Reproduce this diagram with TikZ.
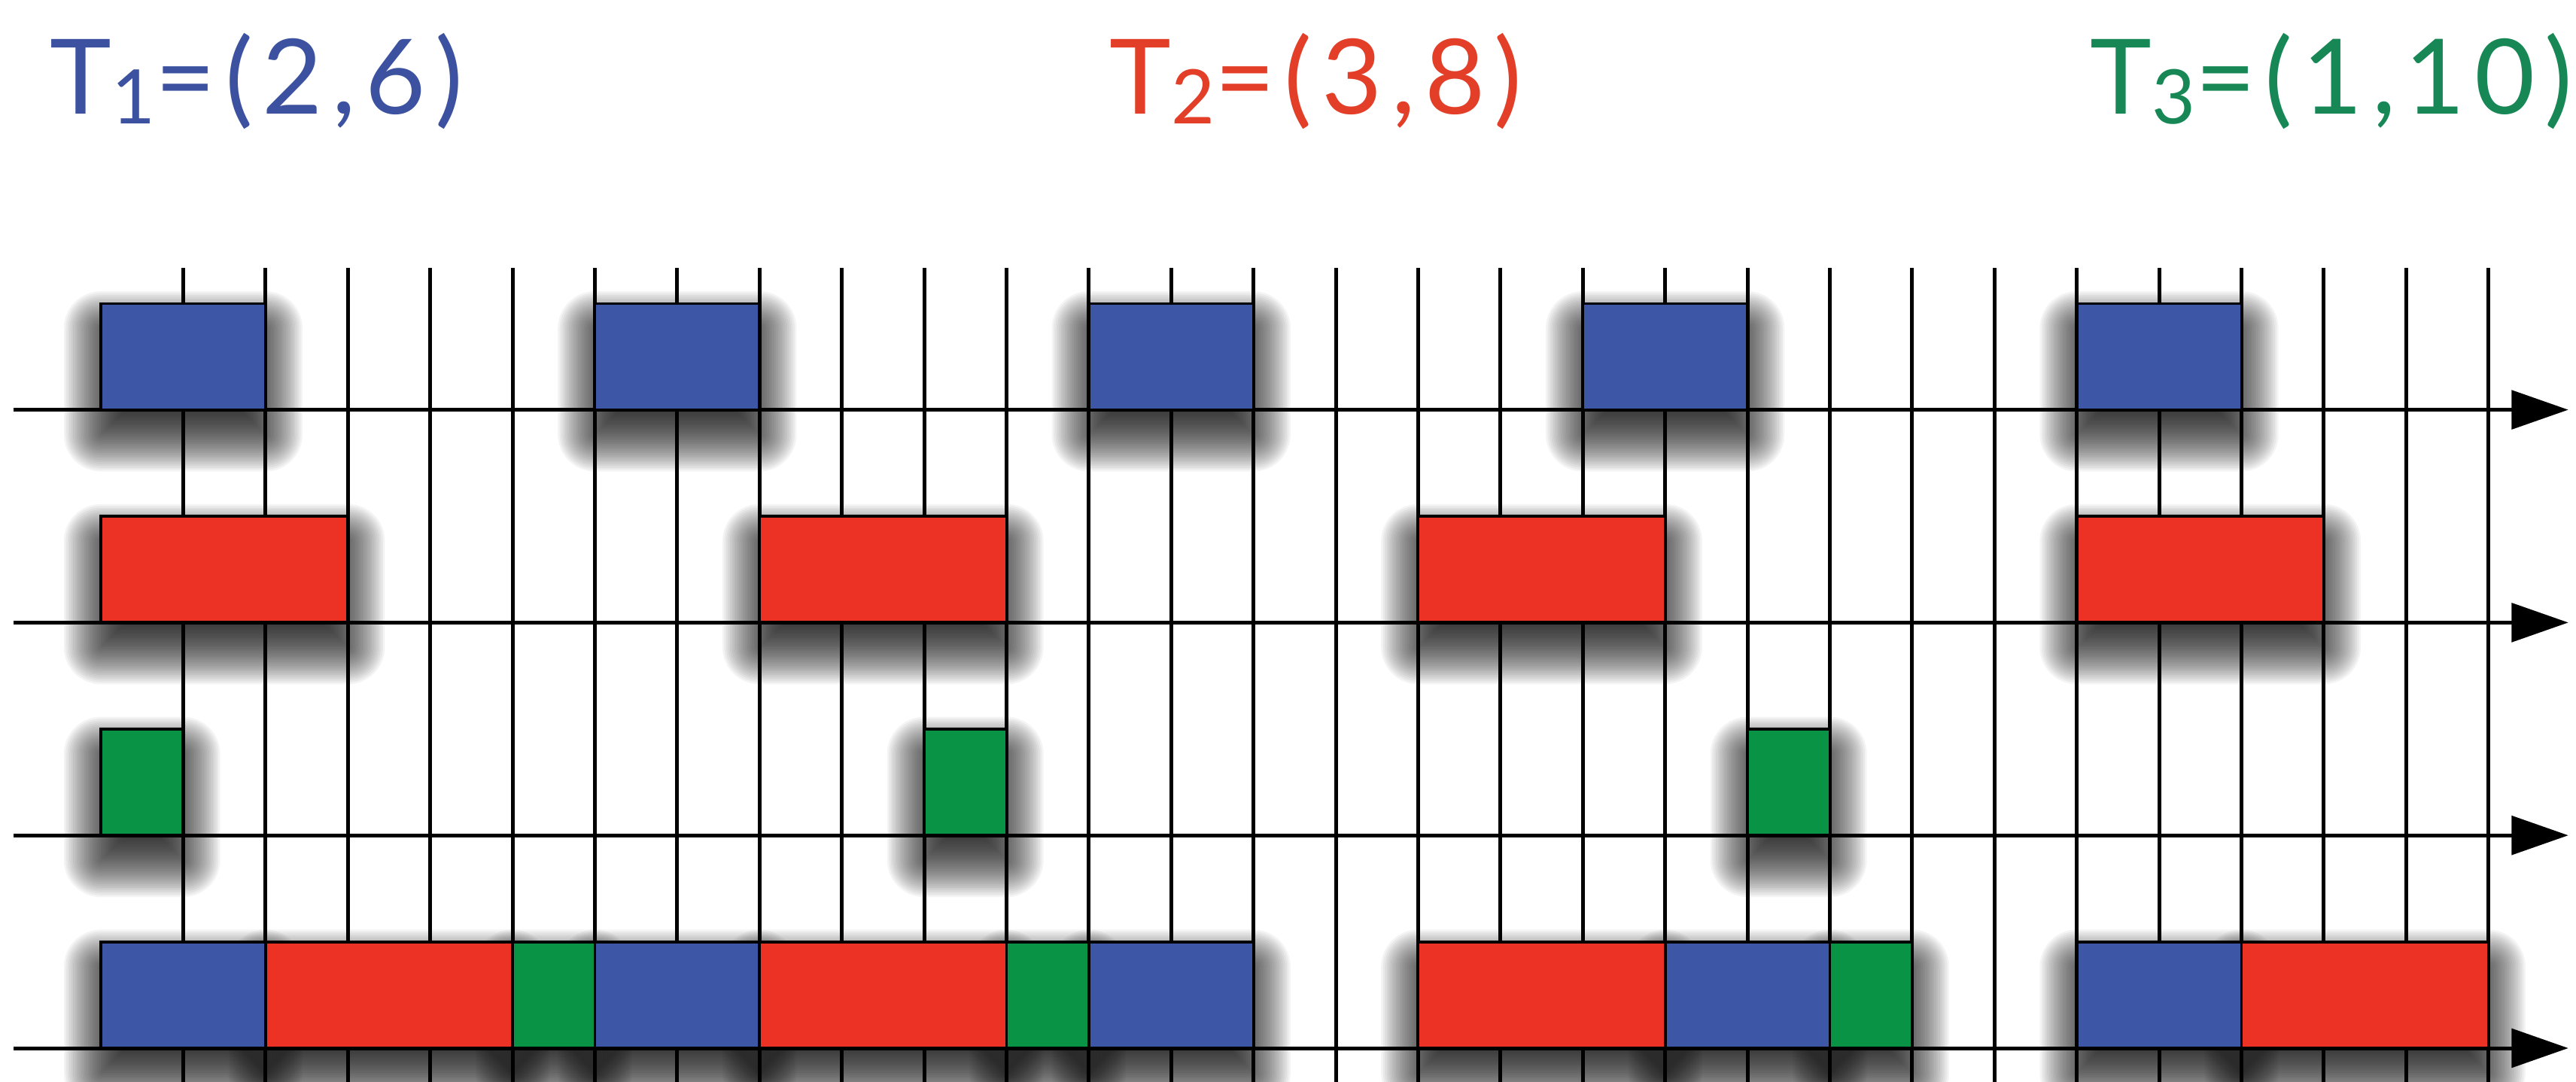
\documentclass[tikz,border=0pt]{standalone}
\usepackage{fontspec}
\setmainfont{Lato}
\usetikzlibrary{arrows.meta}
\definecolor{jobblue}{RGB}{61,86,166}
\definecolor{jobred}{RGB}{236,50,36}
\definecolor{jobgreen}{RGB}{8,148,68}
\definecolor{bluetxt}{RGB}{60,82,160}
\definecolor{redtxt}{RGB}{226,62,40}
\definecolor{greentxt}{RGB}{22,135,85}
\tikzset{
  job/.style={draw=black, line width=1pt},
  tick/.style={line width=1.3pt},
  axis/.style={line width=1.3pt, -{Triangle[length=0.69cm,width=0.47cm]}},
  title/.style={font=\fontsize{36}{40}\selectfont\addfontfeature{LetterSpace=9}, inner sep=0pt},
}
\newcommand{\tsub}[1]{\raisebox{-0.12cm}{\fontsize{26}{30}\selectfont #1}}
% start/end/row/colour of every slot
\newcommand{\joblist}{0/2/7.755/jobblue, 6/8/7.755/jobblue, 12/14/7.755/jobblue, 18/20/7.755/jobblue, 24/26/7.755/jobblue,
0/3/5.17/jobred, 8/11/5.17/jobred, 16/19/5.17/jobred, 24/27/5.17/jobred,
0/1/2.585/jobgreen, 10/11/2.585/jobgreen, 20/21/2.585/jobgreen,
0/2/0/jobblue, 2/5/0/jobred, 5/6/0/jobgreen, 6/8/0/jobblue, 8/11/0/jobred, 11/12/0/jobgreen,
12/14/0/jobblue, 16/19/0/jobred, 19/21/0/jobblue, 21/22/0/jobgreen, 24/26/0/jobblue, 26/29/0/jobred}
\begin{document}
\begin{tikzpicture}
\useasboundingbox (-1.225,-0.411) rectangle (30.064,12.733);
% soft shadows
\foreach \a/\b/\y/\c in \joblist {
  \foreach \k in {0,...,40} {
    \pgfmathsetmacro\d{-0.45+0.0225*\k}
    \pgfmathsetmacro\rc{max(\d,0.01)}
    \fill[black, fill opacity=0.045, rounded corners=\rc cm] ({\a-(\d)},{\y-0.3-(\d)}) rectangle ({\b+(\d)},{\y+0.99+(\d)});
  }
}
% time grid
\foreach \t in {1,...,29}
  \draw[tick] (\t,-0.411) -- (\t,9.48);
\foreach \r in {0,...,3} {
  \coordinate (axs\r) at (-1.06,\r*2.585);
  \coordinate (axe\r) at (29.97,\r*2.585);
  \draw[axis] (axs\r) -- (axe\r);
}
% slots
\foreach \a/\b/\y/\c in \joblist
  \filldraw[job, fill=\c] (\a,\y) rectangle (\b,\y+1.29);
\node[title, text=bluetxt, anchor=base west] (t1) at (-0.62,11.35) {T\tsub{1}=(2,6)};
\node[title, text=redtxt, anchor=base] (t2) at (14.76,11.35) {T\tsub{2}=(3,8)};
\node[title, text=greentxt, anchor=base east] (t3) at (30.03,11.35) {T\tsub{3}=(1,10)};
\end{tikzpicture}
\end{document}
